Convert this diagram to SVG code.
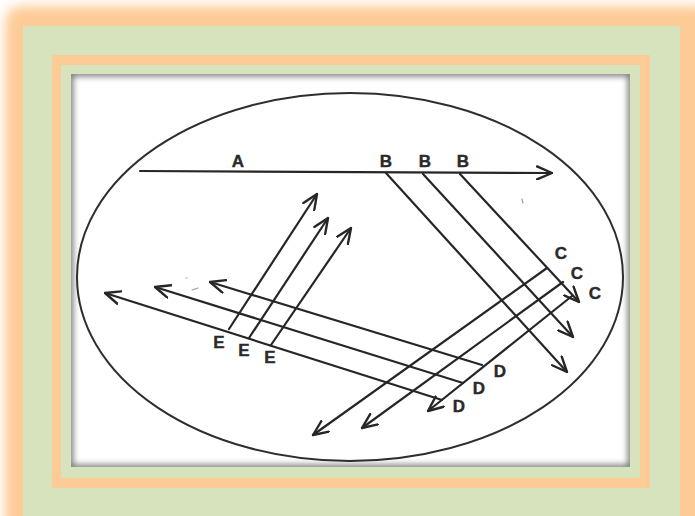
<svg xmlns="http://www.w3.org/2000/svg" width="695" height="516" viewBox="0 0 695 516">
  <defs>
    <style>
      .ray { fill: none; stroke: #262626; stroke-width: 2.2; stroke-linecap: round; }
      .arr { marker-end: url(#chev); }
      .lbl { font-family: "Liberation Sans", Arial, sans-serif; font-weight: bold; font-size: 17px; fill: #2a2a2a; stroke: #2a2a2a; stroke-width: 0.4; text-anchor: middle; dominant-baseline: central; }
      .mark { stroke: #9a9a9a; stroke-width: 1.2; stroke-linecap: round; }
    </style>
    <marker id="chev" viewBox="0 0 17 15" refX="16" refY="7.5" markerWidth="17" markerHeight="15" markerUnits="userSpaceOnUse" orient="auto">
      <path d="M1,1 L16,7.5 L1,14" fill="none" stroke="#262626" stroke-width="2.4" stroke-linecap="round" stroke-linejoin="round"/>
    </marker>
    <filter id="glow" x="-10%" y="-10%" width="120%" height="120%">
      <feGaussianBlur stdDeviation="6"/>
    </filter>
    <filter id="soft" x="-5%" y="-5%" width="110%" height="110%">
      <feGaussianBlur stdDeviation="3"/>
    </filter>
    <clipPath id="photoClip">
      <rect x="71" y="74" width="559" height="393"/>
    </clipPath>
  </defs>

  <!-- frame -->
  <g id="frame">
    <rect x="0" y="0" width="695" height="516" fill="#ffffff"/>
    <rect x="5" y="6" width="710" height="540" rx="16" fill="#FDCB96" filter="url(#glow)"/>
    <rect x="23" y="26" width="657" height="500" fill="#D7E3BD"/>
    <rect x="52" y="55" width="598" height="433" fill="#FDCB96"/>
    <rect x="61" y="65" width="579" height="413" fill="#D7E3BD"/>
    <rect x="71" y="74" width="559" height="393" fill="#ffffff"/>
    <g clip-path="url(#photoClip)">
      <rect x="70" y="73" width="561" height="395" fill="none" stroke="#6a6a6a" stroke-width="6" filter="url(#soft)"/>
    </g>
  </g>

  <!-- dish -->
  <g id="dish">
    <ellipse cx="350" cy="277" rx="273" ry="184" fill="none" stroke="#2e2e2e" stroke-width="2"/>
    <line class="mark" x1="186" y1="278" x2="187" y2="278"/>
    <line class="mark" x1="192" y1="290" x2="198" y2="288"/>
    <line class="mark" x1="522" y1="199" x2="523" y2="203"/>
  </g>

  <!-- connectors -->
  <g id="connectors">
    <line id="ray-A" class="ray arr" x1="140" y1="171" x2="552" y2="173"/>
    <line id="ray-B1" class="ray arr" x1="386" y1="173" x2="567" y2="372"/>
    <line id="ray-B2" class="ray arr" x1="423" y1="174" x2="573" y2="337"/>
    <line id="ray-B3" class="ray arr" x1="460" y1="174" x2="579" y2="302"/>
    <line id="ray-C1" class="ray arr" x1="547" y1="268" x2="313" y2="435"/>
    <line id="ray-C2" class="ray arr" x1="563" y1="282" x2="362" y2="428"/>
    <line id="ray-C3" class="ray arr" x1="572" y1="296" x2="428" y2="411"/>
    <line id="ray-D1" class="ray arr" x1="482" y1="365" x2="210" y2="282"/>
    <line id="ray-D2" class="ray arr" x1="463" y1="383" x2="155" y2="287"/>
    <line id="ray-D3" class="ray arr" x1="442" y1="400" x2="105" y2="293"/>
    <line id="ray-E1" class="ray arr" x1="229" y1="329" x2="317" y2="194"/>
    <line id="ray-E2" class="ray arr" x1="249" y1="338" x2="328" y2="218"/>
    <line id="ray-E3" class="ray arr" x1="271" y1="345" x2="351" y2="228"/>
  </g>

  <!-- labels -->
  <g id="node-A"><text class="lbl" x="238" y="161">A</text></g>
  <g id="node-B">
    <text class="lbl" x="386" y="161">B</text>
    <text class="lbl" x="425" y="161">B</text>
    <text class="lbl" x="463" y="161">B</text>
  </g>
  <g id="node-C">
    <text class="lbl" x="561" y="253">C</text>
    <text class="lbl" x="577" y="273">C</text>
    <text class="lbl" x="595" y="293">C</text>
  </g>
  <g id="node-D">
    <text class="lbl" x="500" y="371">D</text>
    <text class="lbl" x="479" y="388">D</text>
    <text class="lbl" x="459" y="406">D</text>
  </g>
  <g id="node-E">
    <text class="lbl" x="219" y="342">E</text>
    <text class="lbl" x="244" y="350">E</text>
    <text class="lbl" x="270" y="357">E</text>
  </g>
</svg>
